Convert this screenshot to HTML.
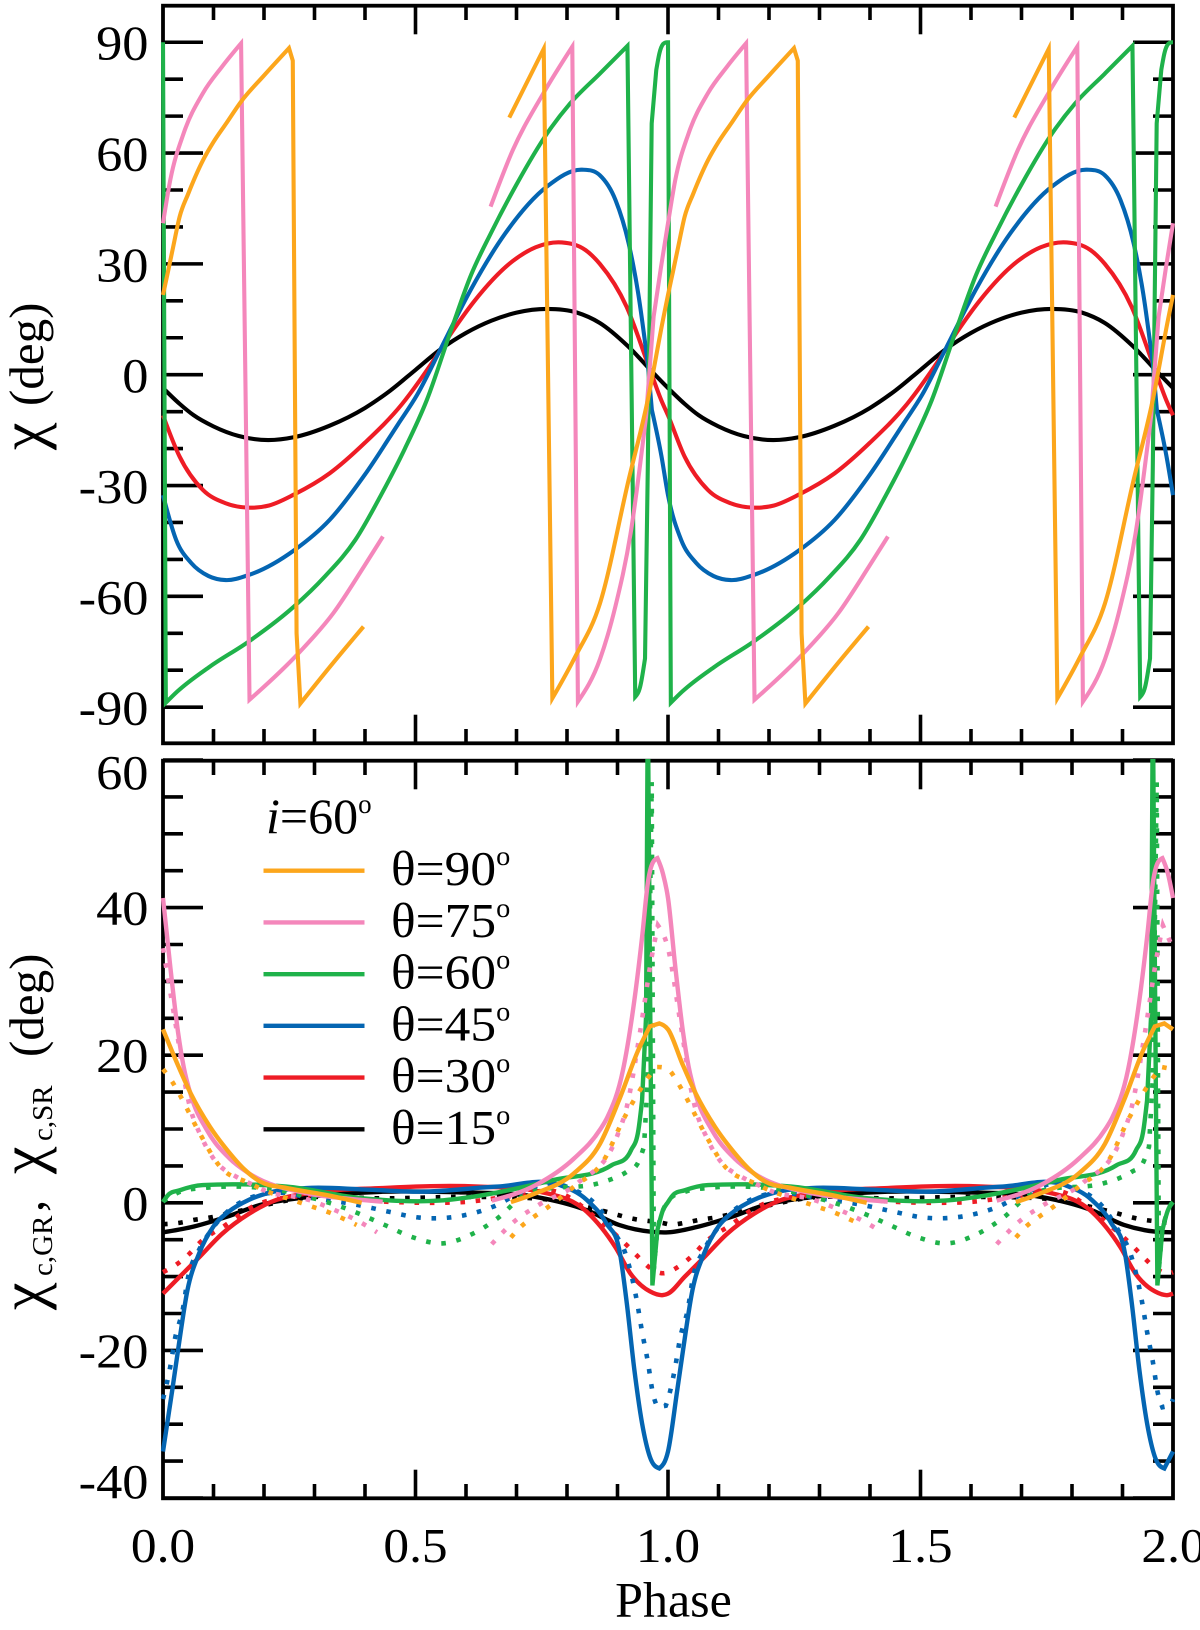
<!DOCTYPE html>
<html lang="en">
<head>
<meta charset="utf-8">
<title>Polarization angle versus phase</title>
<style>
html,body{margin:0;padding:0;background:#fff;}
svg{display:block;}
text{font-family:"Liberation Serif","DejaVu Serif",serif;fill:#000;}
</style>
</head>
<body>
<svg id="chart" xmlns="http://www.w3.org/2000/svg" width="1200" height="1630" viewBox="0 0 1200 1630">
  <defs>
    <clipPath id="bottom-clip"><rect x="158" y="759" width="1020" height="742"/></clipPath>
  </defs>
  <rect x="163" y="5.7" width="1010" height="737.6" fill="none" stroke="#000" stroke-width="3.8"/>
  <rect x="163" y="760.7" width="1010" height="737.6" fill="none" stroke="#000" stroke-width="3.8"/>
  <g id="axes"></g>
  <g id="top-lines"></g>
  <g id="bottom-lines" clip-path="url(#bottom-clip)"></g>
  <g id="labels" font-size="49"></g>

  <text transform="translate(43,0) rotate(-90)" font-size="49"><tspan x="-450" font-size="62">χ</tspan><tspan x="-406">(deg)</tspan></text>
  <text transform="translate(43,0) rotate(-90)" font-size="49"><tspan x="-1310" font-size="62">χ</tspan><tspan x="-1276" dy="9" font-size="29">c,GR</tspan><tspan x="-1212" dy="-9">,</tspan><tspan x="-1174" font-size="62">χ</tspan><tspan x="-1141" dy="9" font-size="29">c,SR</tspan><tspan x="-1057" dy="-9">(deg)</tspan></text>
  <text x="673.5" y="1616.7" text-anchor="middle" font-size="50">Phase</text>

  <g id="legend">
    <text x="266" y="833" font-size="50"><tspan font-style="italic">i</tspan>=60<tspan dy="-20" font-size="27">o</tspan></text>
  </g>
</svg>

<script>
// ---------- axis ticks and labels ----------
const xMajorTicks = [0, 0.5, 1, 1.5, 2];
const xMajorLabels = ["0.0", "0.5", "1.0", "1.5", "2.0"];
const xMinorTicks = [0.1, 0.2, 0.3, 0.4, 0.6, 0.7, 0.8, 0.9, 1.1, 1.2, 1.3, 1.4, 1.6, 1.7, 1.8, 1.9];
const topMajorTicks = [90, 60, 30, 0, -30, -60, -90];
const topMajorLabels = ["90", "60", "30", "0", "-30", "-60", "-90"];
const topMinorTicks = [80, 70, 50, 40, 20, 10, -10, -20, -40, -50, -70, -80];
const bottomMajorTicks = [60, 40, 20, 0, -20, -40];
const bottomMajorLabels = ["60", "40", "20", "0", "-20", "-40"];
const bottomMinorTicks = [55, 50, 45, 35, 30, 25, 15, 10, 5, -5, -10, -15, -25, -30, -35];

// ---------- legend ----------
const legendLabels = ["θ=90", "θ=75", "θ=60", "θ=45", "θ=30", "θ=15"];
const seriesColors = ["#fca61c", "#f487bb", "#1fb24a", "#0465b2", "#ee1c25", "#000000"];

// ---------- top panel: position angle (deg) over one rotation phase ----------
const topPhaseBlack = [0,.033,.06,.1,.15,.208,.26,.33,.4,.45,.5,.55,.6,.65,.7,.76,.82,.865,.92,.97,1];
const topValueBlack = [-3.6,-7.9,-10.9,-14,-16.6,-17.7,-16.9,-13.8,-9,-4.3,1.3,6.9,11.3,14.6,16.8,17.8,16.8,14,7.8,.6,-3.6];

const topPhaseRed = [0,.033,.079,.124,.17,.21,.26,.33,.4,.473,.534,.572,.617,.693,.738,.79,.837,.865,.918,.96,.987,1];
const topValueRed = [-11,-22.2,-31.2,-34.8,-36,-35.4,-32.4,-26.7,-18.4,-8,3.5,11.5,20,30.8,34.5,35.8,33.7,30,18.4,3,-7,-11];

const topPhaseBlue = [0,.026,.056,.09,.124,.17,.26,.33,.4,.465,.503,.552,.609,.678,.76,.83,.865,.896,.922,.941,.96,.968,.987,1];
const topValueBlue = [-32.6,-44.7,-51,-54.5,-55.6,-54.2,-47.5,-39.3,-27,-13.5,-5.5,7.6,22.9,38.3,50.9,55.5,54,47.3,35.6,22,3,-9.5,-22,-32.6];

const topPhaseGreen = [0,.0056,.028,.093,.169,.259,.32,.381,.434,.479,.522,.5715,.61,.65,.7,.761,.806,.865,.9197,.9351,.9448,.9545,.96,.9677,.9768,.983,.998,1];
const topValueGreen = [90,-88.8,-85.8,-79,-72.3,-62.8,-54.7,-44.7,-32,-20,-7,12.5,27,38.5,51.5,65.4,73.4,81.5,89,-87.2,-84.5,-76.8,-25,68,82.5,87,90,90];

const topPhasePink = [0,.0144,.041,.079,.117,.1546,.1713,.2683,.337,.3977,.4355,null,.6487,.6927,.7533,.8105,.8216,.8653,.8957,.926,.9565,.9715,.986,1];
const topValuePink = [41,52.7,65.4,76.2,83.4,89.7,-88,-75.4,-64.6,-52,-43.8,null,45.5,60.8,76.2,88.8,-88.5,-77,-62.8,-42.9,-11.4,15.7,29,41];

const topPhaseOrange = [0,.01,.02,.033,.05,.079,.1,.125,.155,.2,.2495,.257,.2645,.2721,.337,.397,null,.6857,.7539,.771,.8145,.8653,.922,.96,.99,1];
const topValueOrange = [21.6,28,34.5,42.8,49,58,63,68,74,81,88.4,85,-70,-89,-78,-68.2,null,69.6,88.2,-87.6,-76.8,-61.9,-28.5,-6.8,14.8,21.6];

// ---------- bottom panel, solid: GR correction (deg) ----------
const solidPhaseBlack = [0,.056,.126,.192,.278,.435,.6,.7382,.839,.903,.964,1];
const solidValueBlack = [-4,-3.3,-1.9,-.3,.7,1.5,1.4,.8,-1,-3,-3.9,-4];

const solidPhaseRed = [0,.0334,.0713,.117,.17,.225,.278,.435,.624,.7465,.839,.8957,.9258,.964,.99,1];
const solidValueRed = [-12.3,-10,-7.4,-4.2,-1.5,.4,1.2,2,2.2,1.5,-1.2,-6,-9.6,-12,-12.5,-12.3];

const solidPhaseBlue = [0,.0183,.0297,.0485,.0713,.1,.13,.17,.212,.2838,.4,.511,.6628,.786,.839,.878,.905,.9184,.9335,.9487,.964,.9828,1];
const solidValueBlue = [-33.7,-25.4,-20,-11.8,-6.9,-3.2,-1.2,.4,1.4,2,1.8,1.5,2.2,2.4,.4,-2.8,-6.9,-13.6,-22.7,-29.9,-34.4,-36,-33.7];

const solidPhaseGreen = [0,.0093,.0334,.079,.1546,.2445,.396,.547,.63,.7743,.8886,.9266,.9415,.9487,.9566,.96,.9691,.979,.99,1];
const solidValueGreen = [.1,1,1.7,2.4,2.5,2.2,.6,.3,1,3.1,5.1,7.1,9.9,13.9,25.3,68,-11.2,-3.7,-1,.1];

const solidPhasePink = [0,.0144,.03,.041,.056,.0865,.132,.17,.2838,.36,.435,null,.651,.7382,.8139,.8653,.88,.9109,.9335,.9487,.96,.979,.99,1];
const solidValuePink = [41.3,32,23,18.4,14.4,9.9,6,4,1.3,.6,.15,null,.3,2.4,6,9.9,11.6,18,27.5,36,43.3,46.7,44.6,41.3];

const solidPhaseOrange = [0,.028,.055,.093,.13,.16,.192,.245,.32,.3934,null,.6889,.7382,.8139,.8653,.903,.9412,.964,.9828,1];
const solidValueOrange = [23.5,18.9,14.8,10.3,6.9,4.6,2.9,2,1.1,0,null,.1,1.3,4,8,13.9,20.7,23.9,24.3,23.5];

// ---------- bottom panel, dotted: SR correction (deg) ----------
const dottedPhaseBlack = [0,.034,.063,.093,.152,.2838,.435,.6,.7382,.8653,.9335,.994,1];
const dottedValueBlack = [-2.9,-2.7,-2.3,-2,-1.1,.7,.6,.8,.6,-1,-2.2,-2.8,-2.9];

const dottedPhaseRed = [0,.028,.0523,.0713,.1243,.17,.2838,.4426,.5358,.5956,.7,.78,.8653,.9222,.9435,.964,.9956,1];
const dottedValueRed = [-9.4,-8.3,-6.9,-5.5,-3,-.8,1,.15,0,.1,1,1.5,-2.5,-6,-7.5,-8.8,-9.5,-9.4];

const dottedPhaseBlue = [0,.0144,.0238,.0396,.0485,.0713,.0865,.1243,.17,.2077,.3,.3857,.4463,.507,.5358,.5956,.6548,.7117,.7762,.806,.8653,.899,.9109,.9258,.9386,.9487,.96,.97,.979,.9956,1];
const dottedValueBlue = [-26.6,-22.2,-18.4,-14.3,-10.5,-6.4,-4.6,-1.4,.6,1.3,.6,-.3,-1.2,-2,-2.1,-1.7,-.5,1.5,2.6,2,-.9,-4.6,-6,-9.3,-13.4,-17.5,-21.5,-25.8,-27.7,-27.5,-26.6];

const dottedPhaseGreen = [0,.034,.079,.15,.23,.2986,.3554,.3857,.4388,.4956,.5525,.6131,.6624,.7155,.8653,.892,.9184,.9412,.9525,.96,.9677,.972,.979,.99,1];
const dottedValueGreen = [.2,1.5,2,2.2,1.7,.6,-.6,-1.4,-3,-4.7,-5.5,-4.2,-2.1,1,2.7,3.3,4.2,5.5,7.6,16.9,57,-9,-3.5,-1,.2];

const dottedPhasePink = [0,.0257,.0485,.079,.1,.146,.17,.2077,.2838,.344,.3977,.4238,null,.651,.6715,.6927,.7436,.8216,.899,.9184,.9448,.9677,.98,1];
const dottedValuePink = [34.5,23.9,14.4,8.5,6,3.5,2.7,1.5,.5,-1.1,-2.9,-4,null,-5.6,-4.1,-2.7,-.3,2.7,9,13,23.2,33.3,37.6,34.5];

const dottedPhaseOrange = [0,.0183,.0334,.0713,.113,.17,.2077,.2378,.2986,.3287,.3554,.3835,null,.6889,.7093,.7345,.76,.8139,.8732,.9109,.9412,.96,.9775,1];
const dottedValueOrange = [18.1,16.4,14.6,9.6,4.9,2.7,1.5,.8,-.6,-1.3,-2.1,-3,null,-4.7,-3.2,-1.9,-.7,2.2,5.8,11.2,14.9,16.9,18.4,18.1];

// ---------- axis functions ----------
const NS = "http://www.w3.org/2000/svg";
function xScale(phase) { return 163 + 505 * phase; }
function topY(value) { return 374.7 - value * 3.694; }
function bottomY(value) { return 1202.8 - value * 7.38; }

function smoothRun(points) {
  const n = points.length;
  if (n < 2) return "";
  const d = [];
  const h = [];
  for (let i = 0; i < n - 1; i++) {
    h.push((points[i + 1][0] - points[i][0]) || 1e-6);
    d.push((points[i + 1][1] - points[i][1]) / h[i]);
  }
  const m = new Array(n).fill(0);
  for (let i = 1; i < n - 1; i++) {
    m[i] = (h[i] * d[i - 1] + h[i - 1] * d[i]) / (h[i - 1] + h[i]);
    if (d[i - 1] * d[i] > 0) {
      const limit = 3 * Math.min(Math.abs(d[i - 1]), Math.abs(d[i]));
      if (Math.abs(m[i]) > limit) m[i] = Math.sign(m[i]) * limit;
    }
  }
  if (n === 2) {
    m[0] = d[0];
    m[1] = d[0];
  } else {
    m[0] = 1.5 * d[0] - 0.5 * m[1];
    m[n - 1] = 1.5 * d[n - 2] - 0.5 * m[n - 2];
  }
  let out = "";
  for (let i = 0; i < n - 1; i++) {
    const p = points[i];
    const q = points[i + 1];
    out += " C" + (p[0] + h[i] / 3).toFixed(2) + " " + (p[1] + m[i] * h[i] / 3).toFixed(2) +
      " " + (q[0] - h[i] / 3).toFixed(2) + " " + (q[1] - m[i + 1] * h[i] / 3).toFixed(2) +
      " " + q[0].toFixed(2) + " " + q[1].toFixed(2);
  }
  return out;
}

function segmentAngle(a, b) {
  return Math.atan2(b[1] - a[1], Math.max(b[0] - a[0], 1e-6));
}

function runPath(points) {
  let out = "M" + points[0][0].toFixed(2) + " " + points[0][1].toFixed(2);
  let start = 0;
  for (let i = 0; i < points.length - 1; i++) {
    const dx = Math.abs(points[i + 1][0] - points[i][0]) || 1e-6;
    const dy = Math.abs(points[i + 1][1] - points[i][1]);
    if (dy / dx > 10) {
      out += smoothRun(points.slice(start, i + 1));
      out += " L" + points[i + 1][0].toFixed(2) + " " + points[i + 1][1].toFixed(2);
      start = i + 1;
    } else if (i > start) {
      const turn = Math.abs(segmentAngle(points[i - 1], points[i]) - segmentAngle(points[i], points[i + 1]));
      if (turn > 0.8) {
        out += smoothRun(points.slice(start, i + 1));
        start = i;
      }
    }
  }
  out += smoothRun(points.slice(start));
  return out;
}

function seriesPath(phases, values, yScale) {
  let out = "";
  let run = [];
  [0, 1].forEach(function (period) {
    for (let i = 0; i < phases.length; i++) {
      if (phases[i] === null) {
        if (run.length > 1) out += runPath(run) + " ";
        run = [];
      } else {
        const px = xScale(phases[i] + period);
        const last = run[run.length - 1];
        if (!(last && Math.abs(last[0] - px) < 0.01)) {
          run.push([px, yScale(values[i])]);
        }
      }
    }
  });
  if (run.length > 1) out += runPath(run);
  return out;
}

function addSeries(parentId, phases, values, yScale, color, name, width, dotted) {
  const el = document.createElementNS(NS, "path");
  el.setAttribute("d", seriesPath(phases, values, yScale));
  el.setAttribute("fill", "none");
  el.setAttribute("stroke", color);
  el.setAttribute("stroke-width", width);
  el.setAttribute("stroke-linejoin", "miter");
  el.setAttribute("stroke-miterlimit", "6");
  if (dotted) el.setAttribute("stroke-dasharray", "4.6 10.7");
  
  
  document.getElementById(parentId).appendChild(el);
}

function addTick(x1, y1, x2, y2, name) {
  const el = document.createElementNS(NS, "line");
  el.setAttribute("x1", x1);
  el.setAttribute("y1", y1);
  el.setAttribute("x2", x2);
  el.setAttribute("y2", y2);
  el.setAttribute("stroke", "#000");
  el.setAttribute("stroke-width", "3.6");
  
  
  document.getElementById("axes").appendChild(el);
}

function addLabel(x, y, widen, anchor, content, name) {
  const el = document.createElementNS(NS, "text");
  el.setAttribute("transform", "translate(" + x + "," + y + ") scale(" + widen + ",1)");
  el.setAttribute("text-anchor", anchor);
  el.textContent = content;
  
  
  document.getElementById("labels").appendChild(el);
}

// ---------- ticks ----------
const xLeft = xScale(0);
const xRight = xScale(2);
const panelEdges = [[5.7, 743.3], [760.7, 1498.3]];
panelEdges.forEach(function (edge) {
  xMajorTicks.slice(1, -1).forEach(function (phase) {
    addTick(xScale(phase), edge[0], xScale(phase), edge[0] + 28.6, "x-major-tick-top");
    addTick(xScale(phase), edge[1], xScale(phase), edge[1] - 28.6, "x-major-tick-bottom");
  });
  xMinorTicks.forEach(function (phase) {
    addTick(xScale(phase), edge[0], xScale(phase), edge[0] + 14.3, "x-minor-tick-top");
    addTick(xScale(phase), edge[1], xScale(phase), edge[1] - 14.3, "x-minor-tick-bottom");
  });
});
function addYTicks(majors, minors, yScale, prefix) {
  majors.forEach(function (value) {
    addTick(xLeft, yScale(value), xLeft + 40, yScale(value), prefix + "-major-tick-left");
    addTick(xRight, yScale(value), xRight - 40, yScale(value), prefix + "-major-tick-right");
  });
  minors.forEach(function (value) {
    addTick(xLeft, yScale(value), xLeft + 20, yScale(value), prefix + "-minor-tick-left");
    addTick(xRight, yScale(value), xRight - 20, yScale(value), prefix + "-minor-tick-right");
  });
}
addYTicks(topMajorTicks, topMinorTicks, topY, "top-y");
addYTicks(bottomMajorTicks, bottomMinorTicks, bottomY, "bottom-y");

// ---------- tick labels ----------
topMajorTicks.forEach(function (value, i) {
  addLabel(148.5, topY(value) + 17.5, 1.07, "end", topMajorLabels[i], "top-y-tick-label");
});
bottomMajorTicks.forEach(function (value, i) {
  let shift = 17;
  if (i === 0) shift = 29;
  if (i === bottomMajorTicks.length - 1) shift = 0;
  addLabel(148.5, bottomY(value) + shift, 1.07, "end", bottomMajorLabels[i], "bottom-y-tick-label");
});
xMajorTicks.forEach(function (phase, i) {
  addLabel(xScale(phase) + (i === 4 ? 0.5 : 0), 1562, 1.05, "middle", xMajorLabels[i], "x-tick-label");
});

// ---------- series ----------
addSeries("top-lines", topPhaseBlack, topValueBlack, topY, seriesColors[5], "top-line-theta-15", 4.1, false);
addSeries("top-lines", topPhaseRed, topValueRed, topY, seriesColors[4], "top-line-theta-30", 4.1, false);
addSeries("top-lines", topPhaseBlue, topValueBlue, topY, seriesColors[3], "top-line-theta-45", 4.1, false);
addSeries("top-lines", topPhaseGreen, topValueGreen, topY, seriesColors[2], "top-line-theta-60", 4.1, false);
addSeries("top-lines", topPhasePink, topValuePink, topY, seriesColors[1], "top-line-theta-75", 4.1, false);
addSeries("top-lines", topPhaseOrange, topValueOrange, topY, seriesColors[0], "top-line-theta-90", 4.1, false);

addSeries("bottom-lines", solidPhaseBlack, solidValueBlack, bottomY, seriesColors[5], "gr-solid-theta-15", 4.4, false);
addSeries("bottom-lines", dottedPhaseBlack, dottedValueBlack, bottomY, seriesColors[5], "sr-dotted-theta-15", 4.6, true);
addSeries("bottom-lines", solidPhaseRed, solidValueRed, bottomY, seriesColors[4], "gr-solid-theta-30", 4.4, false);
addSeries("bottom-lines", dottedPhaseRed, dottedValueRed, bottomY, seriesColors[4], "sr-dotted-theta-30", 4.6, true);
addSeries("bottom-lines", solidPhaseBlue, solidValueBlue, bottomY, seriesColors[3], "gr-solid-theta-45", 4.4, false);
addSeries("bottom-lines", dottedPhaseBlue, dottedValueBlue, bottomY, seriesColors[3], "sr-dotted-theta-45", 4.6, true);
addSeries("bottom-lines", solidPhaseGreen, solidValueGreen, bottomY, seriesColors[2], "gr-solid-theta-60", 4.4, false);
addSeries("bottom-lines", dottedPhaseGreen, dottedValueGreen, bottomY, seriesColors[2], "sr-dotted-theta-60", 4.6, true);
addSeries("bottom-lines", solidPhasePink, solidValuePink, bottomY, seriesColors[1], "gr-solid-theta-75", 4.4, false);
addSeries("bottom-lines", dottedPhasePink, dottedValuePink, bottomY, seriesColors[1], "sr-dotted-theta-75", 4.6, true);
addSeries("bottom-lines", solidPhaseOrange, solidValueOrange, bottomY, seriesColors[0], "gr-solid-theta-90", 4.4, false);
addSeries("bottom-lines", dottedPhaseOrange, dottedValueOrange, bottomY, seriesColors[0], "sr-dotted-theta-90", 4.6, true);

// ---------- legend entries ----------
legendLabels.forEach(function (label, i) {
  const rowY = 870.7 + i * 51.72;
  const swatch = document.createElementNS(NS, "line");
  swatch.setAttribute("x1", 263.5);
  swatch.setAttribute("x2", 364.5);
  swatch.setAttribute("y1", rowY);
  swatch.setAttribute("y2", rowY);
  swatch.setAttribute("stroke", seriesColors[i]);
  swatch.setAttribute("stroke-width", "4.4");
  
  
  document.getElementById("legend").appendChild(swatch);

  const text = document.createElementNS(NS, "text");
  text.setAttribute("transform", "translate(391," + (rowY + 14.5) + ") scale(1.05,1)");
  text.setAttribute("font-size", "49");
  text.textContent = label;
  const degree = document.createElementNS(NS, "tspan");
  degree.setAttribute("dy", "-20");
  degree.setAttribute("font-size", "27");
  degree.textContent = "o";
  text.appendChild(degree);
  
  
  document.getElementById("legend").appendChild(text);
});
</script>
</body>
</html>
